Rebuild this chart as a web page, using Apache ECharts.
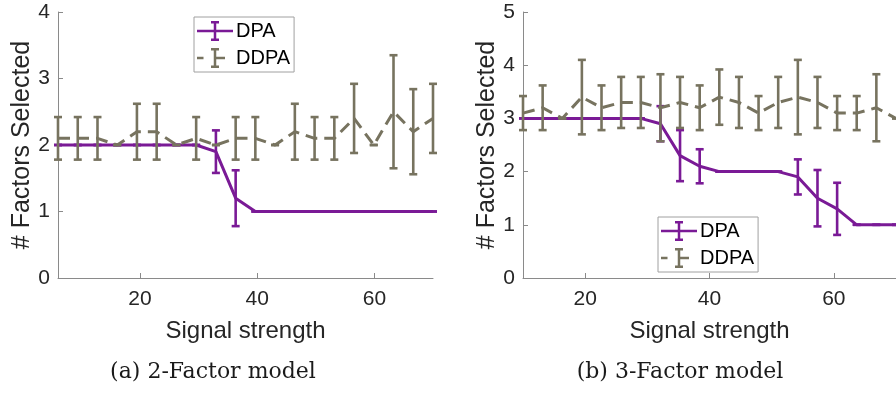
<!DOCTYPE html>
<html>
<head>
<meta charset="utf-8">
<script src="https://cdn.jsdelivr.net/npm/echarts@6/dist/echarts.min.js"></script>
<style>
  html, body { margin: 0; padding: 0; background: #fff; }
  #chart { width: 896px; height: 393px; }
</style>
</head>
<body>
<div id="chart"></div>
<script>
// (a) 2-factor model
const xA = [6, 9.37, 12.74, 16.11, 19.47, 22.84, 26.21, 29.58, 32.95, 36.32,
            39.68, 43.05, 46.42, 49.79, 53.16, 56.53, 59.89, 63.26, 66.63, 70];
const dpaA = [2, 2, 2, 2, 2, 2, 2, 2, 1.9, 1.2, 1, 1, 1, 1, 1, 1, 1, 1, 1, 1];
const dpaErrA = [0, 0, 0, 0, 0, 0, 0, 0, 0.32, 0.42, 0, 0, 0, 0, 0, 0, 0, 0, 0, 0];
const ddpaA = [2.1, 2.1, 2.1, 2.0, 2.2, 2.2, 2.0, 2.1, 2.0, 2.1,
               2.1, 2.0, 2.2, 2.1, 2.1, 2.4, 2.0, 2.5, 2.2, 2.4];
const ddpaErrA = [0.32, 0.32, 0.32, 0, 0.42, 0.42, 0, 0.32, 0, 0.32,
                  0.32, 0, 0.42, 0.32, 0.32, 0.52, 0, 0.85, 0.64, 0.52];

// (b) 3-factor model
const xB = [10, 13.16, 16.32, 19.47, 22.63, 25.79, 28.95, 32.11, 35.26, 38.42,
            41.58, 44.74, 47.89, 51.05, 54.21, 57.37, 60.53, 63.68, 66.84, 70];
const dpaB = [3, 3, 3, 3, 3, 3, 3, 2.9, 2.3, 2.1, 2, 2, 2, 2, 1.9, 1.5, 1.3, 1, 1, 1];
const dpaErrB = [0, 0, 0, 0, 0, 0, 0, 0.33, 0.48, 0.32, 0, 0, 0, 0, 0.33, 0.53, 0.49, 0, 0, 0];
const ddpaB = [3.1, 3.2, 3.0, 3.4, 3.2, 3.3, 3.3, 3.2, 3.3, 3.2,
               3.4, 3.3, 3.1, 3.3, 3.4, 3.3, 3.1, 3.1, 3.2, 3.0];
const ddpaErrB = [0.32, 0.42, 0, 0.7, 0.42, 0.48, 0.48, 0.63, 0.48, 0.42,
                  0.52, 0.48, 0.32, 0.48, 0.7, 0.48, 0.32, 0.32, 0.63, 0];

const xTicks = [20, 40, 60];
const captions = ['(a) 2-Factor model', '(b) 3-Factor model'];

const PURPLE = '#7a1a96';
const OLIVE = '#77735f';
const SANS = '"Liberation Sans", Arial, Helvetica, sans-serif';

const iconDPA = 'path://M0 8.75H36V11.25H0Z M16.75 0H19.25V20H16.75Z M14 0H22V2.5H14Z M14 17.5H22V20H14Z';
const iconDDPA = 'path://M0 8.75H6.5V11.25H0Z M18 8.75H28V11.25H18Z M16.75 0H19.25V20H16.75Z M14 0H22V2.5H14Z M14 17.5H22V20H14Z M36 10L36 10Z';

function pairs(xs, ys) { return xs.map((x, i) => [x, ys[i]]); }
function bars(xs, ys, es) { return xs.map((x, i) => [x, ys[i] - es[i], ys[i] + es[i]]); }

function errorBar(color) {
  return function (params, api) {
    const x = api.value(0);
    const top = api.coord([x, api.value(2)]);
    const bot = api.coord([x, api.value(1)]);
    const cw = 4;
    const st = { stroke: color, lineWidth: 2.6 };
    return {
      type: 'group',
      children: [
        { type: 'line', shape: { x1: top[0], y1: top[1], x2: bot[0], y2: bot[1] }, style: st },
        { type: 'line', shape: { x1: top[0] - cw, y1: top[1], x2: top[0] + cw, y2: top[1] }, style: st },
        { type: 'line', shape: { x1: bot[0] - cw, y1: bot[1], x2: bot[0] + cw, y2: bot[1] }, style: st }
      ]
    };
  };
}

function xAxisFor(idx, min) {
  return {
    type: 'value', gridIndex: idx, min: min, max: 70,
    name: 'Signal strength', nameLocation: 'middle', nameGap: 41,
    nameTextStyle: { fontFamily: SANS, fontSize: 24, color: '#262626' },
    axisLine: { onZero: false, lineStyle: { color: '#8a8a8a', width: 1 } },
    axisTick: { inside: true, length: 5, customValues: xTicks, lineStyle: { color: '#8a8a8a' } },
    axisLabel: { customValues: xTicks, margin: 11, fontFamily: SANS, fontSize: 21, color: '#262626' },
    splitLine: { show: false }
  };
}

function yAxisFor(idx, max) {
  return {
    type: 'value', gridIndex: idx, min: 0, max: max, interval: 1,
    name: '# Factors Selected', nameLocation: 'middle', nameGap: 23,
    nameTextStyle: { fontFamily: SANS, fontSize: 25, color: '#262626' },
    axisLine: { show: true, lineStyle: { color: '#8a8a8a', width: 1 } },
    axisTick: { show: true, inside: true, length: 5, lineStyle: { color: '#8a8a8a' } },
    axisLabel: { margin: 8, fontFamily: SANS, fontSize: 21, color: '#262626' },
    splitLine: { show: false }
  };
}

function legendAt(left, top) {
  return {
    orient: 'vertical', left: left, top: top,
    data: [{ name: 'DPA', icon: iconDPA }, { name: 'DDPA', icon: iconDDPA }],
    itemWidth: 36, itemHeight: 20, itemGap: 7,
    padding: [4, 4, 4, 3],
    borderColor: '#a0a0a0', borderWidth: 1, backgroundColor: '#fff',
    itemStyle: { borderWidth: 0 },
    textStyle: { fontFamily: SANS, fontSize: 20, color: '#000', padding: [0, 0, 0, -2] },
    selectedMode: false
  };
}

function seriesFor(idx, xs, dpa, dpaErr, ddpa, ddpaErr) {
  return [
    { name: 'DPA', type: 'line', xAxisIndex: idx, yAxisIndex: idx, data: pairs(xs, dpa),
      showSymbol: false, color: PURPLE, lineStyle: { width: 3, color: PURPLE }, z: 2 },
    { type: 'custom', xAxisIndex: idx, yAxisIndex: idx, data: bars(xs, dpa, dpaErr),
      renderItem: errorBar(PURPLE), z: 2 },
    { name: 'DDPA', type: 'line', xAxisIndex: idx, yAxisIndex: idx, data: pairs(xs, ddpa),
      showSymbol: false, color: OLIVE, lineStyle: { width: 3, color: OLIVE, type: [12, 7] }, z: 3 },
    { type: 'custom', xAxisIndex: idx, yAxisIndex: idx, data: bars(xs, ddpa, ddpaErr),
      renderItem: errorBar(OLIVE), z: 3 }
  ];
}

const chart = echarts.init(document.getElementById('chart'));
chart.setOption({
  animation: false,
  grid: [
    { left: 58, top: 12, width: 375, height: 266 },
    { left: 523, top: 12, width: 373, height: 266 }
  ],
  xAxis: [xAxisFor(0, 6), xAxisFor(1, 10)],
  yAxis: [yAxisFor(0, 4), yAxisFor(1, 5)],
  legend: [legendAt(194, 17), legendAt(658, 217)],
  series: [].concat(
    seriesFor(0, xA, dpaA, dpaErrA, ddpaA, ddpaErrA),
    seriesFor(1, xB, dpaB, dpaErrB, ddpaB, ddpaErrB)
  ),
  graphic: [
    { type: 'text', x: 213, y: 372, style: { text: captions[0], textAlign: 'center', textVerticalAlign: 'middle',
      font: '22px "DejaVu Serif", serif', fill: '#1a1a1a' } },
    { type: 'text', x: 680, y: 372, style: { text: captions[1], textAlign: 'center', textVerticalAlign: 'middle',
      font: '22px "DejaVu Serif", serif', fill: '#1a1a1a' } }
  ]
});
</script>
</body>
</html>
